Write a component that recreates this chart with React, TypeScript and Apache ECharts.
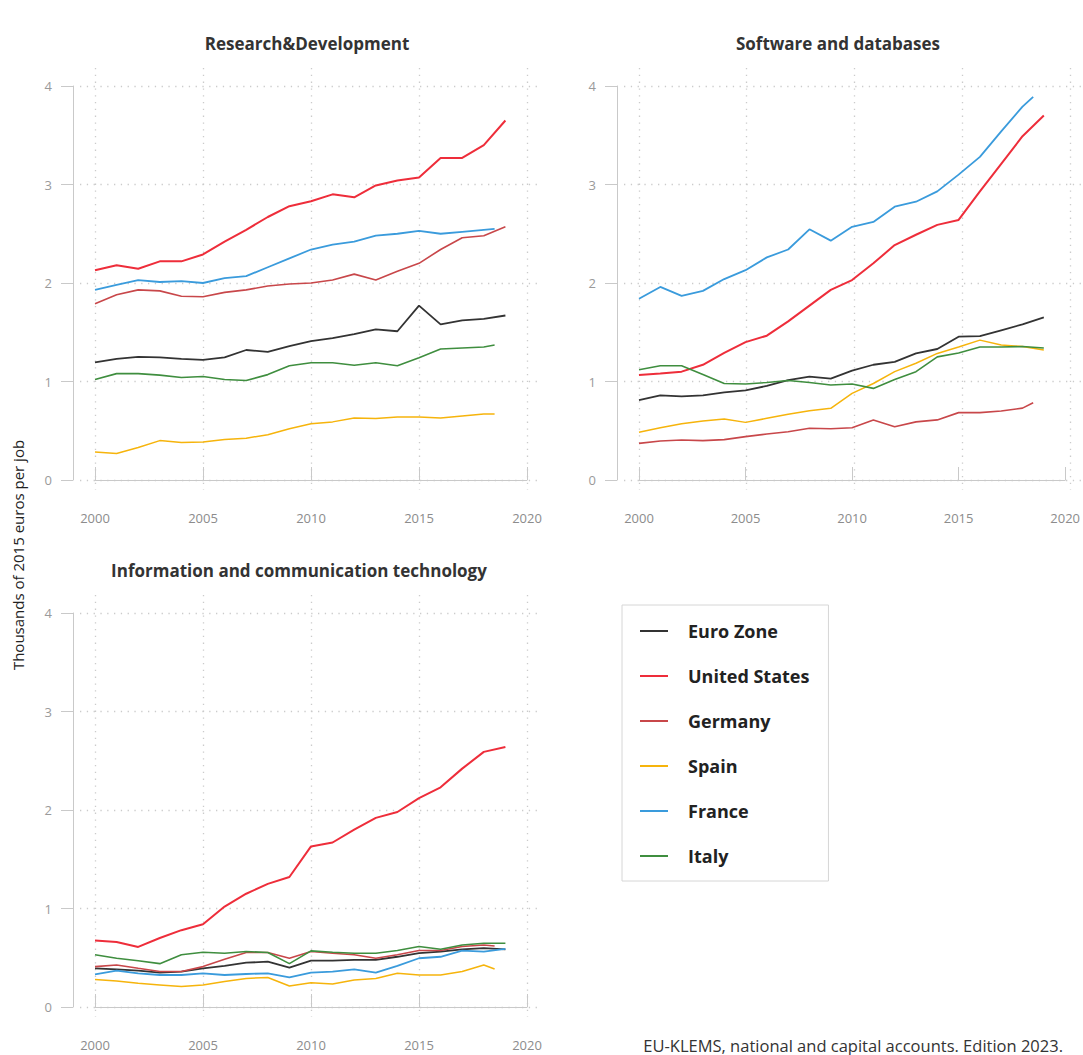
import React, { useEffect, useRef } from "react";
import * as echarts from "echarts";

const YEARS = [2000, 2001, 2002, 2003, 2004, 2005, 2006, 2007, 2008, 2009, 2010, 2011, 2012, 2013, 2014, 2015, 2016, 2017, 2018, 2019];
const TRUNC_END = 2018.5;
const X_TICKS = [2000, 2005, 2010, 2015, 2020];
const Y_TICKS = [0, 1, 2, 3, 4];

const COUNTRIES = ["Euro Zone", "United States", "Germany", "Spain", "France", "Italy"];
const COLORS = ["#333333", "#ee2d3a", "#c8474a", "#f6b40c", "#3a9bdc", "#3f8e3f"];
const WIDTHS = [1.8, 2, 1.6, 1.5, 1.8, 1.6];

const PANEL_TITLES = ["Research&Development", "Software and databases", "Information and communication technology"];

// Research & Development
const RD_EURO = [1.195, 1.23, 1.25, 1.245, 1.23, 1.22, 1.245, 1.32, 1.3, 1.36, 1.41, 1.44, 1.48, 1.53, 1.51, 1.77, 1.58, 1.62, 1.635, 1.67];
const RD_US = [2.13, 2.18, 2.145, 2.22, 2.22, 2.29, 2.42, 2.54, 2.67, 2.78, 2.83, 2.9, 2.87, 2.99, 3.04, 3.07, 3.27, 3.27, 3.4, 3.65];
const RD_DE = [1.79, 1.88, 1.93, 1.92, 1.865, 1.86, 1.905, 1.93, 1.97, 1.99, 2.0, 2.03, 2.09, 2.03, 2.12, 2.2, 2.34, 2.46, 2.48, 2.57];
const RD_ES = [0.284, 0.27, 0.33, 0.4, 0.38, 0.385, 0.41, 0.425, 0.46, 0.52, 0.57, 0.59, 0.63, 0.625, 0.64, 0.64, 0.63, 0.65, 0.67, 0.67];
const RD_FR = [1.93, 1.98, 2.03, 2.01, 2.02, 2.0, 2.05, 2.07, 2.16, 2.25, 2.34, 2.39, 2.42, 2.48, 2.5, 2.53, 2.5, 2.52, 2.54, 2.55];
const RD_IT = [1.02, 1.08, 1.08, 1.065, 1.04, 1.05, 1.02, 1.01, 1.07, 1.16, 1.19, 1.19, 1.165, 1.19, 1.16, 1.24, 1.33, 1.34, 1.35, 1.37];
const RD_TRUNC = ["Spain", "France", "Italy"];

// Software and databases
const SW_EURO = [0.81, 0.86, 0.85, 0.86, 0.89, 0.91, 0.955, 1.015, 1.05, 1.03, 1.11, 1.17, 1.2, 1.285, 1.33, 1.455, 1.46, 1.52, 1.58, 1.65];
const SW_US = [1.066, 1.08, 1.1, 1.17, 1.29, 1.4, 1.465, 1.61, 1.77, 1.93, 2.03, 2.2, 2.385, 2.49, 2.59, 2.64, 2.93, 3.21, 3.49, 3.7];
const SW_DE = [0.372, 0.396, 0.406, 0.4, 0.41, 0.44, 0.467, 0.49, 0.525, 0.52, 0.53, 0.61, 0.54, 0.59, 0.61, 0.684, 0.684, 0.7, 0.73, 0.785];
const SW_ES = [0.484, 0.53, 0.57, 0.6, 0.62, 0.585, 0.626, 0.667, 0.704, 0.728, 0.88, 0.98, 1.1, 1.185, 1.285, 1.35, 1.42, 1.37, 1.355, 1.32];
const SW_FR = [1.84, 1.96, 1.87, 1.92, 2.04, 2.13, 2.26, 2.34, 2.545, 2.43, 2.57, 2.62, 2.775, 2.825, 2.93, 3.1, 3.28, 3.54, 3.79, 3.89];
const SW_IT = [1.12, 1.16, 1.16, 1.07, 0.98, 0.975, 0.99, 1.01, 0.99, 0.965, 0.975, 0.93, 1.02, 1.1, 1.25, 1.29, 1.35, 1.35, 1.355, 1.34];
const SW_TRUNC = ["Germany", "France"];

// Information and communication technology
const ICT_EURO = [0.393, 0.383, 0.37, 0.35, 0.36, 0.393, 0.417, 0.45, 0.46, 0.4, 0.47, 0.47, 0.478, 0.478, 0.51, 0.546, 0.563, 0.586, 0.597, 0.586];
const ICT_US = [0.675, 0.66, 0.61, 0.7, 0.78, 0.84, 1.02, 1.15, 1.25, 1.32, 1.63, 1.67, 1.8, 1.92, 1.98, 2.12, 2.23, 2.42, 2.59, 2.64];
const ICT_DE = [0.41, 0.427, 0.393, 0.36, 0.36, 0.41, 0.485, 0.553, 0.553, 0.495, 0.563, 0.546, 0.53, 0.495, 0.53, 0.573, 0.573, 0.614, 0.63, 0.62];
const ICT_ES = [0.28, 0.264, 0.24, 0.224, 0.207, 0.224, 0.258, 0.29, 0.3, 0.213, 0.247, 0.234, 0.275, 0.29, 0.342, 0.325, 0.325, 0.36, 0.427, 0.386];
const ICT_FR = [0.332, 0.37, 0.342, 0.325, 0.325, 0.342, 0.325, 0.335, 0.342, 0.3, 0.35, 0.36, 0.383, 0.35, 0.417, 0.495, 0.51, 0.573, 0.563, 0.59];
const ICT_IT = [0.53, 0.495, 0.47, 0.44, 0.53, 0.556, 0.546, 0.563, 0.553, 0.44, 0.57, 0.556, 0.546, 0.546, 0.573, 0.614, 0.586, 0.63, 0.647, 0.647];
const ICT_TRUNC = ["Germany", "Spain"];

const Y_NAME = "Thousands of 2015 euros per job";
const SOURCE = "EU-KLEMS, national and capital accounts. Edition 2023.";

const FONT = "'Open Sans', 'Noto Sans', sans-serif";

const PANELS = [
  { title: PANEL_TITLES[0], values: [RD_EURO, RD_US, RD_DE, RD_ES, RD_FR, RD_IT], trunc: RD_TRUNC },
  { title: PANEL_TITLES[1], values: [SW_EURO, SW_US, SW_DE, SW_ES, SW_FR, SW_IT], trunc: SW_TRUNC },
  { title: PANEL_TITLES[2], values: [ICT_EURO, ICT_US, ICT_DE, ICT_ES, ICT_FR, ICT_IT], trunc: ICT_TRUNC },
];

// layout (pixels)
const INNER = [
  { left: 95, top: 86 },
  { left: 639, top: 86 },
  { left: 95, top: 613 },
];
const PW = 432;
const PH = 394;
const EXT_L = 15, EXT_R = 13, EXT_T = 18, EXT_B = 10;

export default function App() {
  const ref = useRef<HTMLDivElement>(null);
  useEffect(() => {
    if (!ref.current) return;
    const chart = echarts.init(ref.current, undefined, { renderer: "svg" });
    const pxPerYear = PW / 20;
    const pxPerUnit = PH / 4;

    const grids: any[] = [];
    const xAxes: any[] = [];
    const yAxes: any[] = [];
    INNER.forEach((g) => {
      grids.push({ left: g.left, top: g.top, width: PW, height: PH, containLabel: false });
    });
    INNER.forEach((g) => {
      grids.push({ left: g.left - EXT_L, top: g.top - EXT_T, width: PW + EXT_L + EXT_R, height: PH + EXT_T + EXT_B, containLabel: false });
    });
    INNER.forEach((g, i) => {
      xAxes.push({
        gridIndex: i, type: "value", min: 2000, max: 2020, interval: 5, offset: 21,
        axisLine: { show: true, lineStyle: { color: "#c9c9c9", width: 1 } },
        axisTick: { show: true, inside: true, length: 13, lineStyle: { color: "#c9c9c9" } },
        axisLabel: { color: "#8c8c8c", fontSize: 13, margin: 10, fontFamily: FONT, formatter: (v: number) => String(v) },
        splitLine: { show: false },
      });
      yAxes.push({
        gridIndex: i, type: "value", min: 0, max: 4, interval: 1, offset: 22,
        axisLine: { show: true, lineStyle: { color: "#c9c9c9", width: 1 } },
        axisTick: { show: true, inside: false, length: 12, lineStyle: { color: "#c9c9c9" } },
        axisLabel: { color: "#9a9a9a", fontSize: 13, margin: 21, fontFamily: FONT },
        splitLine: { show: false },
      });
    });
    INNER.forEach((g, i) => {
      xAxes.push({
        gridIndex: 3 + i, type: "value",
        min: 2000 - EXT_L / pxPerYear, max: 2020 + EXT_R / pxPerYear,
        axisLine: { show: false },
        axisTick: { show: false, customValues: X_TICKS },
        axisLabel: { show: false, customValues: X_TICKS },
        splitLine: { show: true, lineStyle: { color: "#cbcbcb", width: 1.3, type: [1.3, 5.5] } },
      });
      yAxes.push({
        gridIndex: 3 + i, type: "value",
        min: 0 - EXT_B / pxPerUnit, max: 4 + EXT_T / pxPerUnit,
        axisLine: { show: false },
        axisTick: { show: false, customValues: Y_TICKS },
        axisLabel: { show: false, customValues: Y_TICKS },
        splitLine: { show: true, lineStyle: { color: "#cbcbcb", width: 1.3, type: [1.3, 5.5] } },
      });
    });

    const series: any[] = [];
    PANELS.forEach((p, pi) => {
      p.values.forEach((vals, ci) => {
        const name = COUNTRIES[ci];
        const truncated = p.trunc.indexOf(name) >= 0;
        const data = vals.map((v, i) => [truncated && i === vals.length - 1 ? TRUNC_END : YEARS[i], v]);
        series.push({
          type: "line", name, xAxisIndex: pi, yAxisIndex: pi, data,
          symbol: "none", smooth: false, color: COLORS[ci],
          lineStyle: { color: COLORS[ci], width: WIDTHS[ci] },
          z: 3,
        });
      });
    });

    const titlePos = [
      { x: 307, y: 43 },
      { x: 838, y: 43 },
      { x: 299, y: 570 },
    ];

    chart.setOption({
      animation: false,
      backgroundColor: "#ffffff",
      grid: grids,
      xAxis: xAxes,
      yAxis: yAxes,
      series,
      legend: {
        orient: "vertical", left: 622, top: 605,
        padding: [16, 19, 15, 18], itemGap: 25,
        itemWidth: 28, itemHeight: 2, icon: "rect",
        borderColor: "#d6d6d6", borderWidth: 1,
        textStyle: { fontSize: 18, fontWeight: 700, color: "#222", fontFamily: FONT, padding: [0, 0, 0, 15], lineHeight: 20 },
        data: COUNTRIES,
      },
      graphic: [
        ...PANEL_TITLES.map((t, i) => ({
          type: "text", x: titlePos[i].x, y: titlePos[i].y, silent: true,
          style: { text: t, fontSize: 17, fontWeight: 700, fill: "#333", fontFamily: FONT, textAlign: "center", textVerticalAlign: "middle" },
        })),
        {
          type: "text", x: 18, y: 555, rotation: Math.PI / 2, silent: true,
          style: { text: Y_NAME, fontSize: 15, fontWeight: 500, fill: "#222", fontFamily: FONT, textAlign: "center", textVerticalAlign: "middle" },
        },
        {
          type: "text", x: 1063, y: 1045, silent: true,
          style: { text: SOURCE, fontSize: 16.5, lineHeight: 17, fill: "#333", fontFamily: FONT, textAlign: "right", textVerticalAlign: "middle" },
        },
      ],
    });
    return () => chart.dispose();
  }, []);
  return <div ref={ref} style={{ position: "fixed", left: 0, top: 0, width: 1083, height: 1055 }} />;
}
